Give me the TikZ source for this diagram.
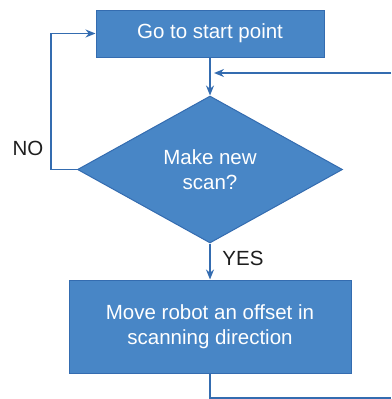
\documentclass[tikz,border=0pt]{standalone}
\usepackage{fontspec}
\setmainfont{Liberation Sans}
\usetikzlibrary{shapes.geometric,arrows.meta}
\definecolor{boxfill}{RGB}{72,134,198}
\definecolor{boxline}{RGB}{52,108,176}
\definecolor{labeltext}{RGB}{30,30,30}
\begin{document}
\begin{tikzpicture}[x=1pt,y=-1pt,
  every node/.style={font=\fontsize{20.5}{25}\selectfont},
  procbox/.style={draw=boxline,line width=1pt,fill=boxfill,text=white,inner sep=0pt,align=center},
  decbox/.style={diamond,draw=boxline,line width=1pt,fill=boxfill,text=white,inner sep=0pt,aspect=1.8,align=center},
  flow/.style={draw=boxline,line width=1.5pt,-{Stealth[length=10pt,width=8pt]}},
  plain/.style={draw=boxline,line width=1.5pt},
  lbl/.style={text=labeltext,inner sep=0pt}]
\useasboundingbox (0,0) rectangle (391,399);
\node[procbox,minimum width=228pt,minimum height=47pt] (start) at (210,33.5) {Go to start point};
\node[decbox,minimum width=265pt,minimum height=147pt] (scan) at (210,169.5) {Make new\\scan?};
\node[procbox,minimum width=282pt,minimum height=93pt] (move) at (210,326.5) {Move robot an offset in\\scanning direction};
\coordinate (rin) at (391,73);
\coordinate (bend) at (210,398);
\coordinate (rout) at (391,398);
\draw[flow] (start.south) -- (scan.north);
\draw[flow,shorten >=4pt] (rin) -- (start.south |- rin);
\draw[flow] (scan.west) -- ++(-26,0) |- (start.west);
\draw[flow] (scan.south) -- (move.north);
\draw[plain] (move.south) -- (bend) -- (rout);
\node[lbl] (no) at (28,148) {NO};
\node[lbl] (yes) at (243,258) {YES};
\end{tikzpicture}
\end{document}
